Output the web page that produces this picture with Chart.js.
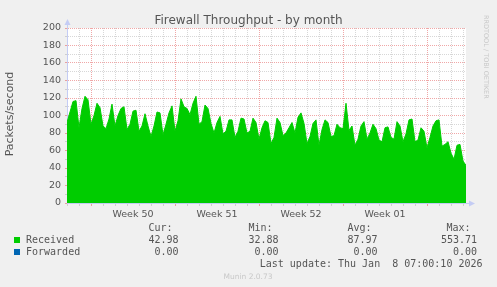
<!DOCTYPE html>
<html>
<head>
<meta charset="utf-8">
<script src="https://cdn.jsdelivr.net/npm/chart.js@4"></script>
<style>
  body { margin: 0; background: #f0f0f0; }
  canvas { display: block; }
</style>
</head>
<body>
<canvas id="fw" width="497" height="287"></canvas>
<script>
// samples every 6 hours, starting Sat Dec 6 2025 00:00
const stepHours = 6;
const received = [
  92, 104, 116, 117, 86, 108, 122, 118, 90, 100, 114, 109, 88, 85, 96, 113,
  88, 100, 108, 110, 84, 90, 105, 106, 82, 88, 102, 88, 76, 88, 104, 103,
  78, 90, 103, 111, 82, 94, 119, 110, 108, 101, 114, 122, 90, 93, 112, 108,
  91, 80, 92, 99, 79, 82, 95, 95, 75, 82, 97, 96, 80, 82, 97, 92,
  73, 86, 94, 92, 68, 75, 97, 92, 77, 80, 86, 92, 80, 98, 103, 91,
  68, 76, 91, 95, 66, 84, 95, 92, 76, 77, 90, 86, 85, 114, 83, 88,
  66, 73, 88, 93, 73, 80, 90, 85, 72, 70, 86, 87, 75, 73, 93, 88,
  70, 79, 95, 96, 70, 72, 86, 82, 63, 75, 88, 94, 95, 65, 67, 70,
  57, 50, 66, 67, 48, 43
];
const forwarded = received.map(() => 0);

const weekLabels = ['Week 50', 'Week 51', 'Week 52', 'Week 01'];
const firstMondayHour = 48;   // Mon Dec 8 00:00
const yTicks = [0, 20, 40, 60, 80, 100, 120, 140, 160, 180, 200];

const seriesNames = ['Received', 'Forwarded'];
const seriesColors = ['#00cc00', '#0066b3'];
const statHeaders = ['Cur:', 'Min:', 'Avg:', 'Max:'];
const statsReceived = ['42.98', '32.88', '87.97', '553.71'];
const statsForwarded = ['0.00', '0.00', '0.00', '0.00'];
const lastUpdate = 'Last update: Thu Jan  8 07:00:10 2026';

const totalHours = (received.length - 1) * stepHours;
const axisColor = '#c4ccf4';
const gridMinor = 'rgba(150,150,150,0.38)';
const gridMajor = 'rgba(225,80,80,0.5)';
const textColor = '#555';

function isMonday(h) {
  return ((h - firstMondayHour) % 168 + 168) % 168 === 0;
}

const canvasBg = {
  id: 'canvasBg',
  beforeDraw(chart) {
    const a = chart.chartArea;
    chart.ctx.save();
    chart.ctx.fillStyle = '#ffffff';
    chart.ctx.fillRect(a.left, a.top, a.right - a.left, a.bottom - a.top);
    chart.ctx.restore();
  }
};

const extras = {
  id: 'extras',
  afterDraw(chart) {
    const ctx = chart.ctx;
    const a = chart.chartArea;
    const xs = chart.scales.x;
    ctx.save();

    // axis arrows
    ctx.fillStyle = axisColor;
    ctx.strokeStyle = axisColor;
    ctx.lineWidth = 1;
    ctx.beginPath();
    ctx.moveTo(a.left + 0.5, a.top);
    ctx.lineTo(a.left + 0.5, a.top - 6);
    ctx.stroke();
    ctx.beginPath();
    ctx.moveTo(a.left - 2.5, a.top - 3);
    ctx.lineTo(a.left + 3.5, a.top - 3);
    ctx.lineTo(a.left + 0.5, a.top - 9);
    ctx.closePath();
    ctx.fill();
    ctx.beginPath();
    ctx.moveTo(a.right, a.bottom + 0.5);
    ctx.lineTo(a.right + 5, a.bottom + 0.5);
    ctx.stroke();
    ctx.beginPath();
    ctx.moveTo(a.right + 3, a.bottom - 2.5);
    ctx.lineTo(a.right + 3, a.bottom + 3.5);
    ctx.lineTo(a.right + 9, a.bottom + 0.5);
    ctx.closePath();
    ctx.fill();

    // title
    ctx.fillStyle = textColor;
    ctx.font = '12px "DejaVu Sans"';
    ctx.textAlign = 'center';
    ctx.textBaseline = 'alphabetic';
    ctx.fillText('Firewall Throughput - by month', 248.5, 23.5);

    // y axis title
    ctx.save();
    ctx.translate(10.5, 114);
    ctx.rotate(-Math.PI / 2);
    ctx.font = '11px "DejaVu Sans"';
    ctx.textBaseline = 'middle';
    ctx.fillText('Packets/second', 0, 0);
    ctx.restore();

    // week labels, centred on each week
    ctx.font = '9.5px "DejaVu Sans"';
    weekLabels.forEach((lbl, i) => {
      const h = firstMondayHour + i * 168 + 84;
      ctx.fillText(lbl, xs.getPixelForValue(h), 216.5);
    });

    // rrdtool credit
    ctx.save();
    ctx.translate(486, 15);
    ctx.rotate(Math.PI / 2);
    ctx.font = '6.5px "DejaVu Sans"';
    ctx.fillStyle = '#c8c8c8';
    ctx.textAlign = 'left';
    ctx.textBaseline = 'middle';
    ctx.fillText('RRDTOOL / TOBI OETIKER', 0, 0);
    ctx.restore();

    // legend
    ctx.font = '10px "DejaVu Sans Mono"';
    ctx.fillStyle = textColor;
    const headRight = [172.5, 272.5, 371.5, 470.5];
    const valRight = [178.5, 278.5, 377.5, 477];
    ctx.textAlign = 'right';
    statHeaders.forEach((t, i) => ctx.fillText(t, headRight[i], 230.5));
    [statsReceived, statsForwarded].forEach((row, r) => {
      const y = 243 + r * 12;
      row.forEach((t, i) => ctx.fillText(t, valRight[i], y));
    });
    ctx.textAlign = 'left';
    seriesNames.forEach((n, r) => {
      const y = 243 + r * 12;
      ctx.fillStyle = seriesColors[r];
      ctx.fillRect(14, y - 6, 6, 6);
      ctx.fillStyle = textColor;
      ctx.fillText(n, 26, y);
    });
    ctx.textAlign = 'right';
    ctx.fillText(lastUpdate, 482.5, 266.5);

    ctx.textAlign = 'center';
    ctx.font = '7.5px "DejaVu Sans"';
    ctx.fillStyle = '#c8c8c8';
    ctx.fillText('Munin 2.0.73', 248, 279);
    ctx.restore();
  }
};

new Chart(document.getElementById('fw'), {
  type: 'line',
  data: {
    datasets: [{
      label: seriesNames[0],
      data: received.map((v, i) => ({x: i * stepHours, y: v})),
      borderColor: seriesColors[0],
      backgroundColor: seriesColors[0],
      borderWidth: 1,
      fill: 'origin',
      pointRadius: 0,
      tension: 0,
      order: 0
    }, {
      label: seriesNames[1],
      data: forwarded.map((v, i) => ({x: i * stepHours, y: v})),
      borderColor: seriesColors[1],
      borderWidth: 1,
      fill: false,
      pointRadius: 0,
      order: 1
    }]
  },
  options: {
    responsive: false,
    animation: false,
    events: [],
    layout: { padding: { left: 0, top: 28, right: 31, bottom: 0 } },
    plugins: { legend: { display: false }, tooltip: { enabled: false } },
    scales: {
      x: {
        type: 'linear',
        min: 0,
        max: totalHours,
        z: 1,
        afterBuildTicks: (axis) => {
          const t = [];
          for (let h = 0; h <= totalHours; h += 24) t.push({value: h});
          axis.ticks = t;
        },
        afterFit: (scale) => { scale.height = 84; },
        ticks: { display: false },
        grid: {
          color: (c) => (c.tick && isMonday(c.tick.value)) ? gridMajor : gridMinor,
          tickColor: (c) => (c.tick && isMonday(c.tick.value)) ? gridMajor : gridMinor,
          tickLength: 3,
          lineWidth: 1
        },
        border: { color: axisColor, width: 1, dash: [1, 1] }
      },
      y: {
        min: 0,
        max: 200,
        z: 1,
        afterBuildTicks: (axis) => {
          const t = [];
          for (let v = 0; v <= 200; v += 10) t.push({value: v});
          axis.ticks = t;
        },
        afterFit: (scale) => { scale.width = 67; },
        ticks: {
          autoSkip: false,
          padding: 4,
          color: textColor,
          font: { family: 'DejaVu Sans', size: 9.5 },
          callback: (v) => yTicks.includes(v) ? String(v) : ''
        },
        grid: {
          color: (c) => (c.tick && c.tick.value % 20 === 0) ? gridMajor : gridMinor,
          tickColor: (c) => (c.tick && c.tick.value % 20 === 0) ? gridMajor : gridMinor,
          tickLength: 2,
          lineWidth: 1
        },
        border: { color: axisColor, width: 1, dash: [1, 1] }
      }
    }
  },
  plugins: [canvasBg, extras]
});
</script>
</body>
</html>
